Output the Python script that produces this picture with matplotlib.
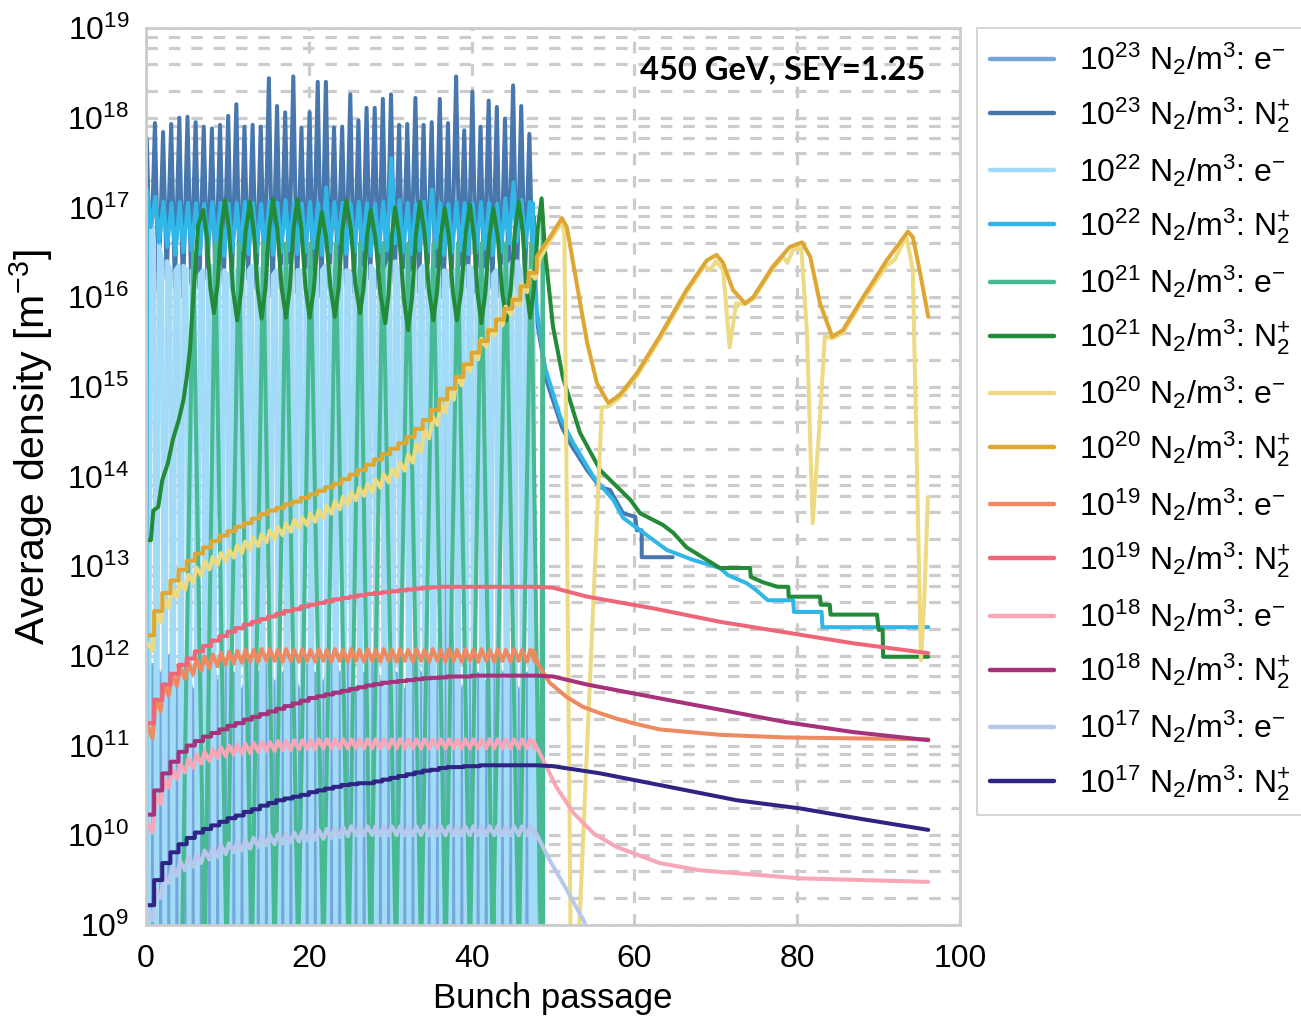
import numpy as np
import matplotlib.pyplot as plt
from matplotlib.ticker import NullFormatter, FixedLocator

plt.rcParams['font.family'] = ['Liberation Sans', 'DejaVu Sans']
plt.rcParams['mathtext.fontset'] = 'custom'
plt.rcParams['mathtext.rm'] = 'Liberation Sans'
plt.rcParams['mathtext.it'] = 'Liberation Sans:italic'
plt.rcParams['mathtext.bf'] = 'Liberation Sans:bold'

# ---------------- data (log10 of density in m^-3) ----------------
n_bunch = 48

# 1e23 N2/m3 : N2+ peaks / troughs per bunch
n23_peak = [17.77, 17.94, 17.84, 17.93, 18.00, 18.01, 17.95, 17.90, 17.88, 17.92, 18.02, 18.15,
            17.90, 17.92, 17.90, 18.44, 18.13, 18.06, 18.46, 17.89, 18.06, 18.40, 18.40, 17.89,
            17.90, 18.26, 17.97, 18.11, 18.11, 18.21, 18.26, 17.92, 17.93, 18.22, 17.92, 17.95,
            18.21, 17.94, 18.46, 17.86, 18.29, 17.90, 18.19, 18.12, 17.99, 18.36, 18.13, 17.82]
n23_trough = [16.15, 16.05, 16.20, 16.10, 16.00, 16.15, 16.10, 16.20, 16.05, 16.15, 16.10, 16.00,
              16.20, 16.10, 16.15, 16.00, 16.10, 16.20, 16.05, 16.15, 16.10, 16.00, 16.10, 16.20,
              16.15, 16.05, 16.10, 16.20, 16.10, 16.00, 16.15, 16.10, 16.20, 16.05, 16.10, 16.15,
              16.00, 16.10, 16.20, 16.10, 16.05, 16.15, 16.10, 16.00, 16.20, 16.10, 16.15, 16.10]
n23_after_x = [47.6, 47.8, 49.3, 51.1, 52.1, 54.2, 55.8, 57.0, 58.6, 60.1, 60.3, 60.9, 60.9, 64.7]
n23_after_y = [16.90, 15.86, 15.04, 14.55, 14.37, 14.07, 13.88, 13.85, 13.59, 13.55, 13.40, 13.40, 13.10, 13.10]

# 1e23 N2/m3 : electrons (tops of the per-bunch dips)
e23_top = [11.9, 11.8, 12.0, 11.7, 11.9, 11.6, 11.8, 12.0, 11.7, 11.9, 11.8, 11.6, 12.0, 11.8,
           11.9, 11.7, 11.8, 12.0, 11.6, 11.9, 11.8, 11.7, 12.0, 11.8, 11.9, 11.6, 11.8, 12.0,
           11.7, 11.9, 11.8, 11.6, 12.0, 11.8, 11.9, 11.7, 14.8, 12.0, 11.6, 11.9, 11.8, 11.7,
           12.0, 11.8, 11.9, 11.6, 11.8, 11.9]
e23_low = 7.0

# 1e22 N2/m3 : N2+
n22_peak = [17.20, 17.12, 17.06, 17.05, 17.06, 17.05, 17.05, 17.04, 17.06, 17.05, 17.04, 17.05,
            17.06, 17.05, 17.04, 17.06, 17.05, 17.08, 17.05, 17.04, 17.06, 17.05, 17.22, 17.06,
            17.05, 17.04, 17.06, 17.05, 17.04, 17.06, 17.55, 17.08, 17.05, 17.04, 17.06, 17.20,
            17.05, 17.04, 17.06, 17.05, 17.04, 17.06, 17.05, 17.04, 17.10, 17.28, 17.08, 17.06]
n22_trough = [16.78, 16.61, 16.56, 16.47, 16.50, 16.52, 16.48, 16.50, 16.55, 16.46, 16.50, 16.52,
              16.48, 16.50, 16.54, 16.47, 16.50, 16.52, 16.48, 16.50, 16.55, 16.47, 16.50, 16.60,
              16.48, 16.50, 16.53, 16.46, 16.50, 16.52, 16.60, 16.50, 16.48, 16.52, 16.50, 16.55,
              16.47, 16.50, 16.52, 16.48, 16.50, 16.54, 16.47, 16.50, 16.60, 16.62, 16.55, 16.50]
n22_start = 9.0
n22_after_x = [47.5, 48.0, 49.0, 50.9, 52.5, 55.0, 57.4, 58.6, 60.7, 64.0, 67.2, 70.5, 71.5, 73.8,
               75.0, 76.4, 79.5, 79.6, 83.0, 83.1, 96.1]
n22_after_y = [17.05, 15.86, 15.22, 14.66, 14.37, 13.99, 13.74, 13.54, 13.40, 13.18, 13.07, 12.98,
               12.90, 12.81, 12.73, 12.62, 12.62, 12.49, 12.49, 12.32, 12.32]

# 1e22 N2/m3 : electrons (top of each bunch oscillation)
e22_high = [16.9, 16.6, 16.4, 16.3, 16.35, 16.3, 16.25, 16.3, 16.35, 16.3, 16.25, 16.3, 16.3,
            16.35, 16.3, 16.25, 16.3, 16.35, 16.3, 16.3, 16.25, 16.3, 16.35, 16.3, 16.3, 16.25,
            16.3, 16.35, 16.3, 16.3, 16.4, 16.3, 16.25, 16.3, 16.35, 16.3, 16.3, 16.25, 16.3,
            16.35, 16.3, 16.3, 16.25, 16.3, 16.35, 16.4, 16.3, 16.3]
e22_low = 7.5

# 1e21 N2/m3 : electrons
e21_x = [4.4, 5.8, 7.2, 8.5, 9.9, 11.4, 13.0, 14.4, 15.8, 17.2, 18.7, 20.2, 21.8, 23.3, 24.9,
         26.3, 27.6, 29.1, 30.7, 32.2, 33.8, 35.3, 36.8, 38.3, 39.8, 41.2, 42.6, 44.2, 45.8,
         47.3, 48.5, 48.75, 48.8]
e21_y = [8.6, 16.5, 8.6, 16.6, 8.6, 16.6, 8.6, 16.6, 8.6, 16.6, 8.6, 16.6, 8.6, 16.6, 8.6,
         16.6, 8.6, 16.6, 8.6, 16.6, 8.6, 16.6, 8.6, 16.6, 8.6, 16.6, 8.6, 16.6, 8.6,
         16.6, 8.6, 16.9, 8.0]

# 1e21 N2/m3 : N2+
n21_x = [0, 0.6, 0.9, 1.5, 2.0, 2.7, 3.3, 4.0, 4.6, 5.0, 5.4, 5.8, 6.4, 7.04,
         7.48, 7.91, 8.35, 8.80, 9.25, 9.7, 10.2, 10.7, 11.2, 11.7, 12.25, 12.78,
         13.25, 13.73, 14.2, 14.67, 15.13, 15.6, 16.13, 16.67, 17.2, 17.67, 18.13, 18.6,
         19.1, 19.6, 20.1, 20.6, 21.1, 21.6, 22.13, 22.67, 23.2, 23.67, 24.13, 24.6,
         25.17, 25.73, 26.3, 26.73, 27.17, 27.6, 28.2, 28.8, 29.4, 29.8, 30.2, 30.6,
         31.13, 31.67, 32.2, 32.69, 33.17, 33.66, 34.21, 34.75, 35.3, 35.77, 36.23, 36.7,
         37.2, 37.7, 38.2, 38.73, 39.27, 39.8, 40.27, 40.73, 41.2, 41.69, 42.18, 42.67,
         43.21, 43.75, 44.3, 44.8, 45.3, 45.8, 46.27, 46.73, 47.2, 47.67, 48.13, 48.6,
         49.0, 50.0, 51.2, 53.3, 55.8, 59.5, 60.7, 63.5, 64.8, 66.4, 68.9, 70.5, 74.2, 74.3,
         75.8, 77.6, 78.9, 78.95, 82.8, 82.9, 84.0, 84.1, 89.8, 90.0, 90.5, 90.55, 96.1]
n21_y = [13.29, 13.29, 13.62, 13.66, 13.96, 14.15, 14.41, 14.62, 14.85, 15.10, 15.41, 15.97,
         16.80, 16.97,
         16.68, 16.10, 15.82, 16.14, 16.76, 17.08, 16.75, 16.07, 15.74, 16.07, 16.74, 17.06,
         16.73, 16.08, 15.76, 16.09, 16.75, 17.09, 16.76, 16.10, 15.77, 16.10, 16.76, 17.09,
         16.76, 16.10, 15.77, 16.07, 16.63, 16.95, 16.66, 16.10, 15.78, 16.10, 16.75, 17.08,
         16.76, 16.14, 15.82, 16.10, 16.69, 16.97, 16.65, 16.03, 15.71, 16.03, 16.68, 17.00,
         16.66, 15.99, 15.63, 16.00, 16.70, 17.06, 16.72, 16.08, 15.74, 16.07, 16.68, 16.99,
         16.68, 16.06, 15.74, 16.07, 16.71, 17.03, 16.70, 16.04, 15.71, 16.04, 16.67, 16.99,
         16.68, 16.06, 15.74, 16.08, 16.72, 17.06, 16.74, 16.10, 15.77, 16.10, 16.76, 17.10,
         16.53, 15.67, 15.11, 14.49, 14.07, 13.74, 13.59, 13.46, 13.37, 13.21, 13.07, 12.98,
         12.98, 12.88, 12.82, 12.77, 12.77, 12.66, 12.66, 12.57, 12.57, 12.46, 12.46, 12.29,
         12.29, 11.99, 11.99]

# 1e20 N2/m3 : electrons (centre per bunch, ripple depth)
e20_centre = [12.10, 12.42, 12.58, 12.70, 12.78, 12.86, 12.94, 13.01, 13.06, 13.10, 13.14, 13.19,
              13.23, 13.27, 13.31, 13.35, 13.39, 13.43, 13.47, 13.50, 13.54, 13.58, 13.63, 13.68,
              13.73, 13.78, 13.83, 13.87, 13.92, 13.98, 14.04, 14.11, 14.20, 14.32, 14.47, 14.62,
              14.76, 14.90, 15.06, 15.21, 15.35, 15.49, 15.61, 15.73, 15.85, 15.95, 16.10, 16.25]
e20_ripple = 0.045
e20_after_x = [48.4, 49.8, 51.1, 51.4, 52.2, 53.0, 56.0, 56.8, 58.2, 60.3, 63.1, 66.4, 68.6, 69.3,
               70.0, 70.9, 71.7, 72.5, 73.6, 74.6, 77.0, 78.3, 78.8, 79.5, 80.5, 81.2, 81.9,
               82.8, 83.4, 84.3, 85.6, 88.1, 91.0, 92.0, 93.4, 94.2, 95.2, 95.6, 96.05]
e20_after_y = [16.43, 16.65, 16.85, 16.70, 8.5, 8.5, 14.77, 14.78, 14.88, 15.12, 15.53, 16.05,
               16.35, 16.30, 16.40, 16.30, 15.44, 15.93, 15.92, 15.98, 16.32, 16.45, 16.38,
               16.53, 16.55, 15.60, 13.48, 14.66, 15.56, 15.54, 15.60, 15.97, 16.35, 16.42,
               16.68, 16.30, 11.95, 12.60, 13.77]

# 1e20 N2/m3 : N2+ (value after each bunch passage)
n20_step = [12.23, 12.50, 12.70, 12.84, 12.96, 13.06, 13.14, 13.21, 13.28, 13.34, 13.39, 13.44,
            13.48, 13.53, 13.58, 13.62, 13.65, 13.69, 13.72, 13.76, 13.80, 13.84, 13.88, 13.92,
            13.97, 14.02, 14.07, 14.13, 14.19, 14.25, 14.31, 14.37, 14.44, 14.53, 14.63, 14.74,
            14.86, 14.98, 15.11, 15.25, 15.38, 15.51, 15.63, 15.75, 15.87, 15.97, 16.12, 16.27]
n20_after_x = [48.0, 49.5, 51.1, 51.7, 52.9, 54.2, 55.4, 56.8, 58.2, 60.3, 63.1, 66.4, 68.9, 70.1,
               70.9, 72.1, 73.6, 74.6, 77.0, 79.1, 80.6, 81.6, 82.8, 84.3, 85.6, 88.1, 91.0,
               93.6, 94.2, 95.1, 96.1]
n20_after_y = [16.45, 16.65, 16.88, 16.78, 16.16, 15.49, 15.04, 14.82, 14.91, 15.15, 15.56, 16.08,
               16.41, 16.47, 16.38, 16.08, 15.93, 16.00, 16.34, 16.56, 16.61, 16.45, 15.93,
               15.56, 15.63, 16.00, 16.41, 16.73, 16.67, 16.27, 15.78]

# 1e19 N2/m3
e19_centre = [11.15, 11.45, 11.62, 11.73, 11.81, 11.86, 11.90, 11.93, 11.95, 11.97, 11.98, 11.99,
              12.00, 12.00, 12.01, 12.01, 12.00, 12.01, 12.00, 12.01, 12.00, 12.01, 12.00, 12.01,
              12.00, 12.01, 12.00, 12.01, 12.00, 12.01, 12.00, 12.01, 12.00, 12.01, 12.00, 12.01,
              12.00, 12.01, 12.00, 12.01, 12.00, 12.01, 12.00, 12.01, 12.00, 12.01, 12.00, 12.00]
e19_ripple = 0.065
e19_after_x = [47.6, 48.2, 49.6, 51.7, 53.7, 55.8, 57.8, 59.8, 63.1, 70.5, 78.7, 96.1]
e19_after_y = [12.06, 11.90, 11.70, 11.54, 11.43, 11.36, 11.30, 11.25, 11.18, 11.12, 11.09, 11.07]
n19_step = [11.25, 11.51, 11.68, 11.80, 11.90, 11.97, 12.05, 12.11, 12.17, 12.22, 12.27, 12.31,
            12.35, 12.38, 12.41, 12.44, 12.47, 12.50, 12.52, 12.55, 12.57, 12.59, 12.61, 12.63,
            12.645, 12.66, 12.675, 12.69, 12.70, 12.71, 12.72, 12.73, 12.74, 12.75, 12.76, 12.765,
            12.77, 12.77, 12.77, 12.77, 12.77, 12.77, 12.77, 12.77, 12.77, 12.77, 12.77, 12.77]
n19_after_x = [48.0, 50.0, 54.2, 62.3, 70.5, 78.7, 86.9, 96.1]
n19_after_y = [12.77, 12.76, 12.66, 12.53, 12.38, 12.26, 12.14, 12.03]

# 1e18 N2/m3
e18_centre = [10.08, 10.40, 10.58, 10.68, 10.75, 10.80, 10.85, 10.88, 10.91, 10.93, 10.95, 10.96,
              10.97, 10.98, 10.99, 10.99, 11.00, 11.00, 11.01, 11.01, 11.01, 11.02, 11.02, 11.02,
              11.02, 11.02, 11.02, 11.02, 11.02, 11.02, 11.02, 11.02, 11.02, 11.02, 11.02, 11.02,
              11.02, 11.02, 11.02, 11.02, 11.02, 11.02, 11.02, 11.02, 11.02, 11.02, 11.02, 11.02]
e18_ripple = 0.05
e18_after_x = [47.6, 48.8, 50.4, 52.5, 55.0, 57.8, 63.1, 68.0, 80.3, 96.1]
e18_after_y = [11.05, 10.84, 10.54, 10.25, 10.02, 9.87, 9.69, 9.61, 9.52, 9.48]
n18_step = [10.23, 10.50, 10.69, 10.82, 10.93, 11.00, 11.05, 11.10, 11.14, 11.18, 11.22, 11.25,
            11.29, 11.32, 11.35, 11.38, 11.41, 11.44, 11.47, 11.50, 11.53, 11.55, 11.57, 11.59,
            11.61, 11.63, 11.65, 11.67, 11.685, 11.70, 11.71, 11.72, 11.73, 11.74, 11.75, 11.755,
            11.76, 11.77, 11.77, 11.77, 11.78, 11.78, 11.78, 11.78, 11.78, 11.78, 11.78, 11.78]
n18_after_x = [48.0, 50.0, 54.2, 62.3, 70.5, 78.7, 86.9, 96.1]
n18_after_y = [11.78, 11.77, 11.68, 11.54, 11.40, 11.26, 11.15, 11.06]

# 1e17 N2/m3
e17_centre = [9.10, 9.35, 9.52, 9.60, 9.66, 9.70, 9.74, 9.78, 9.81, 9.84, 9.86, 9.88, 9.90, 9.92,
              9.94, 9.95, 9.96, 9.97, 9.98, 9.99, 10.00, 10.01, 10.02, 10.03, 10.04, 10.05, 10.05,
              10.05, 10.05, 10.05, 10.05, 10.05, 10.05, 10.05, 10.05, 10.05, 10.05, 10.05, 10.05,
              10.05, 10.05, 10.05, 10.05, 10.05, 10.05, 10.05, 10.05, 10.05]
e17_ripple = 0.05
e17_after_x = [47.6, 49.6, 51.7, 53.7, 55.0]
e17_after_y = [10.08, 9.72, 9.39, 9.06, 8.80]
n17_step = [9.22, 9.50, 9.69, 9.81, 9.90, 9.97, 10.03, 10.07, 10.11, 10.15, 10.19, 10.22, 10.26,
            10.29, 10.33, 10.36, 10.39, 10.41, 10.43, 10.45, 10.48, 10.50, 10.52, 10.54, 10.56,
            10.57, 10.58, 10.58, 10.60, 10.62, 10.64, 10.66, 10.68, 10.70, 10.72, 10.73, 10.75,
            10.76, 10.76, 10.77, 10.77, 10.78, 10.78, 10.78, 10.78, 10.78, 10.78, 10.78]
n17_after_x = [48.0, 50.0, 55.8, 63.1, 72.6, 80.3, 88.0, 96.1]
n17_after_y = [10.78, 10.77, 10.69, 10.56, 10.39, 10.30, 10.18, 10.06]

labels = [r'$10^{23}$ N$_2$/m$^3$: e$^{-}$', r'$10^{23}$ N$_2$/m$^3$: N$_2^{+}$',
          r'$10^{22}$ N$_2$/m$^3$: e$^{-}$', r'$10^{22}$ N$_2$/m$^3$: N$_2^{+}$',
          r'$10^{21}$ N$_2$/m$^3$: e$^{-}$', r'$10^{21}$ N$_2$/m$^3$: N$_2^{+}$',
          r'$10^{20}$ N$_2$/m$^3$: e$^{-}$', r'$10^{20}$ N$_2$/m$^3$: N$_2^{+}$',
          r'$10^{19}$ N$_2$/m$^3$: e$^{-}$', r'$10^{19}$ N$_2$/m$^3$: N$_2^{+}$',
          r'$10^{18}$ N$_2$/m$^3$: e$^{-}$', r'$10^{18}$ N$_2$/m$^3$: N$_2^{+}$',
          r'$10^{17}$ N$_2$/m$^3$: e$^{-}$', r'$10^{17}$ N$_2$/m$^3$: N$_2^{+}$']
colors = ['#74a8da', '#4777ac', '#a2dbf7', '#31b6e8', '#48ba93', '#238a38', '#ecdb82',
          '#dea733', '#ee8a62', '#ee6678', '#f8a6b8', '#a5327a', '#b8c8ec', '#2f2484']

y_decades = list(range(9, 20))
y_minor_subs = [2, 4, 6, 8]


# ---------------- helpers to assemble time series ----------------
def osc(peaks, troughs, xp, xt):
    xs, ys = [], []
    for k in range(len(peaks)):
        xs += [k + xp, k + xt]
        ys += [peaks[k], troughs[k]]
    return xs, ys


def ripple(centre, depth):
    xs, ys = [], []
    for k, c in enumerate(centre):
        xs += [k + 0.2, k + 0.8]
        ys += [c + depth, c - depth]
    return xs, ys


def steps(vals):
    xs, ys = [], []
    for k, v in enumerate(vals):
        xs += [k, k + 1]
        ys += [v, v]
    return xs, ys


series = []
# 1e23 e-
xs, ys = [0.0], [e23_top[0]]
for k in range(n_bunch):
    xs += [k + 0.62, k + 0.8, k + 0.98]
    ys += [e23_top[k], e23_low, e23_top[k]]
series.append((xs, ys))
# 1e23 N2+
xs, ys = osc(n23_peak, n23_trough, 0.1, 0.55)
series.append(([0.0] + xs + n23_after_x, [15.2] + ys + n23_after_y))
# 1e22 e-
xs, ys = [], []
for k in range(n_bunch):
    xs += [k, k + 0.3, k + 0.6]
    ys += [e22_high[k], e22_low, e22_high[k]]
series.append((xs + [47.9], ys + [7.0]))
# 1e22 N2+
xs, ys = osc(n22_peak, n22_trough, 0.15, 0.6)
series.append(([0.0] + xs + n22_after_x, [n22_start] + ys + n22_after_y))
# 1e21
series.append((e21_x, e21_y))
series.append((n21_x, n21_y))
# 1e20 .. 1e17
for centre, depth, ax_, ay_, stp, sx_, sy_ in [
        (e20_centre, e20_ripple, e20_after_x, e20_after_y, n20_step, n20_after_x, n20_after_y),
        (e19_centre, e19_ripple, e19_after_x, e19_after_y, n19_step, n19_after_x, n19_after_y),
        (e18_centre, e18_ripple, e18_after_x, e18_after_y, n18_step, n18_after_x, n18_after_y),
        (e17_centre, e17_ripple, e17_after_x, e17_after_y, n17_step, n17_after_x, n17_after_y)]:
    xs, ys = ripple(centre, depth)
    series.append(([0.0] + xs + ax_, [centre[0]] + ys + ay_))
    xs, ys = steps(stp)
    series.append((xs + sx_, ys + sy_))

# ---------------- plot ----------------
fig = plt.figure(figsize=(13.01, 10.18), dpi=100)
ax = fig.add_axes([0.1122, 0.0914, 0.6257, 0.8811])

for (xs, ys), lab, col in zip(series, labels, colors):
    ax.plot(xs, 10.0 ** np.asarray(ys), color=col, lw=2.9, label=lab,
            solid_joinstyle='round', solid_capstyle='round')

ax.set_yscale('log')
ax.set_xlim(0, 100)
ax.set_ylim(1e9, 1e19)
ax.xaxis.set_major_locator(FixedLocator([0, 20, 40, 60, 80, 100]))
ax.yaxis.set_major_locator(FixedLocator([10.0 ** d for d in y_decades]))
ax.yaxis.set_minor_locator(FixedLocator([s * 10.0 ** d for d in y_decades[:-1] for s in y_minor_subs]))
ax.yaxis.set_minor_formatter(NullFormatter())
ax.tick_params(which='both', length=0, labelsize=23)
ax.tick_params(axis='x', pad=14)
ax.tick_params(axis='y', pad=12)

grid_kw = dict(color='#cccccc', lw=2.3, linestyle=(0, (3.6, 3.4)))
ax.grid(True, which='both', axis='y', **grid_kw)
ax.grid(True, which='major', axis='x', **grid_kw)
ax.set_axisbelow(True)
for sp in ax.spines.values():
    sp.set_color('#cccccc')
    sp.set_linewidth(2)

ax.set_xlabel('Bunch passage', fontsize=25)
ax.xaxis.set_label_coords(0.5, -0.064)
ax.set_ylabel(r'Average density [m$^{-3}$]', fontsize=29.5)
ax.yaxis.set_label_coords(-0.112, 0.533)

ax.text(0.957, 0.953, '450 GeV, SEY=1.25', transform=ax.transAxes, ha='right', va='center',
        fontsize=23.5, fontweight='bold', family=['Lato', 'DejaVu Sans'])

leg = ax.legend(loc='upper left', bbox_to_anchor=(1.021, 1.0), borderaxespad=0,
                fontsize=23, handlelength=2.0, handletextpad=0.78, labelspacing=0.55,
                frameon=True, fancybox=False, borderpad=0.4)
leg.get_frame().set_edgecolor('#cccccc')
leg.get_frame().set_linewidth(1.5)
for h in leg.get_lines():
    h.set_linewidth(3.2)

fig.savefig('out.png', dpi=100)
